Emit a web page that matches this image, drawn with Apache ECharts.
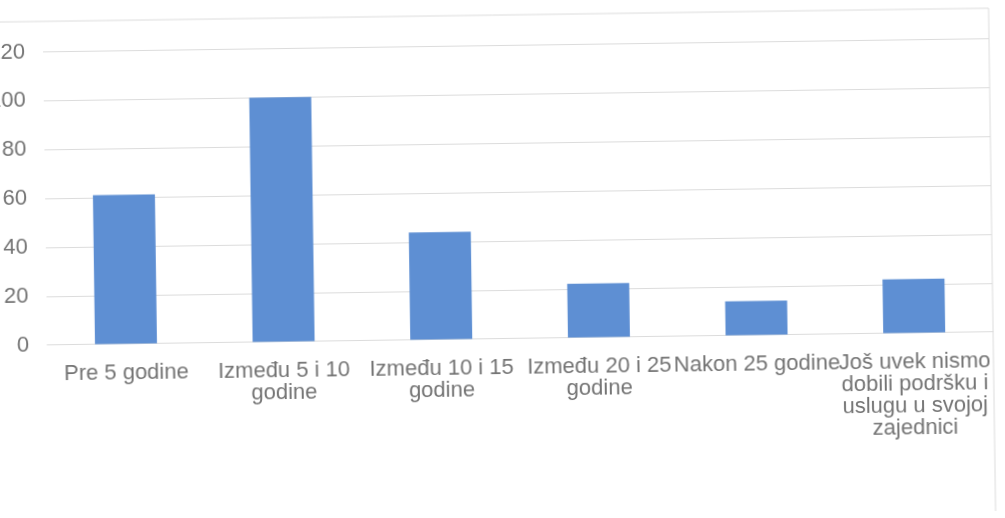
<!DOCTYPE html>
<html>
<head>
<meta charset="utf-8">
<script src="https://cdn.jsdelivr.net/npm/echarts@6/dist/echarts.min.js"></script>
<style>
  html, body { margin: 0; padding: 0; background: #ffffff; overflow: hidden; }
  #wrap { width: 1005px; height: 518px; transform: rotate(-0.8deg); transform-origin: 50% 50%; }
  #chart { width: 1005px; height: 518px; }
</style>
</head>
<body>
<div id="wrap"><div id="chart"></div></div>
<script>
// Categories (x axis labels, with manual line breaks)
const categories = [
  'Pre 5 godine',
  'Između 5 i 10\ngodine',
  'Između 10 i 15\ngodine',
  'Između 20 i 25\ngodine',
  'Nakon 25 godine',
  'Još uvek nismo\ndobili podršku i\nuslugu u svojoj\nzajednici'
];

// Bar values
const values = [61, 100, 44, 22, 14, 22];

// Value axis range
const yMin = 0;
const yMax = 120;
const yStep = 20;

const textColor = '#747474';
const gridColor = '#dcdcdc';
const barColor = '#5e8fd3';
const fontFamily = '"Liberation Sans", Arial, sans-serif';

const chart = echarts.init(document.getElementById('chart'), null, { renderer: 'canvas' });

chart.setOption({
  backgroundColor: '#ffffff',
  animation: false,
  grid: {
    left: 46, right: 13, top: 45.5, bottom: 179.4,
    containLabel: false,
    outerBoundsMode: 'none'
  },
  // chart frame
  graphic: [{
    type: 'rect',
    silent: true,
    shape: { x: -20, y: 15, width: 1012, height: 600 },
    style: { fill: 'none', stroke: gridColor, lineWidth: 1 }
  }],
  xAxis: {
    type: 'category',
    data: categories,
    axisLine: { show: true, lineStyle: { color: gridColor, width: 1 } },
    axisTick: { show: false },
    axisLabel: {
      interval: 0,
      margin: 18,
      color: textColor,
      fontSize: 22,
      lineHeight: 22,
      fontFamily: fontFamily
    },
    splitLine: { show: false }
  },
  yAxis: {
    type: 'value',
    min: yMin,
    max: yMax,
    interval: yStep,
    axisLine: { show: false },
    axisTick: { show: false },
    axisLabel: {
      margin: 18,
      color: textColor,
      fontSize: 22,
      fontFamily: fontFamily
    },
    splitLine: { show: true, lineStyle: { color: gridColor, width: 1 } }
  },
  series: [{
    type: 'bar',
    data: values,
    barWidth: 62,
    itemStyle: { color: barColor },
    silent: true
  }]
});
</script>
</body>
</html>
